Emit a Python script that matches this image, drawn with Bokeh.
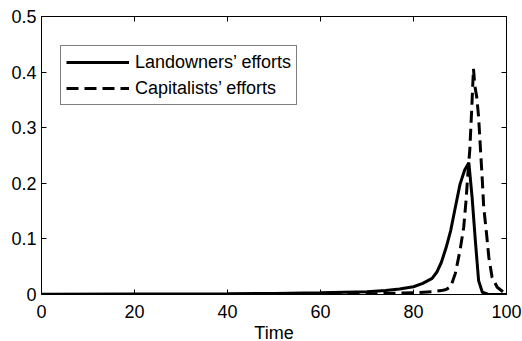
from bokeh.plotting import figure
from bokeh.models import Range1d, LinearAxis, FixedTicker, Legend, LegendItem
from bokeh.embed import file_html
from bokeh.resources import INLINE

# ---- data ----
t_land = [0, 20, 40, 50, 60, 65, 70, 74, 77, 80, 82, 84, 85, 86, 87, 88, 89, 90, 91, 91.9, 92.6, 93.3, 94, 94.8, 96, 100]
land = [0.0005, 0.001, 0.0015, 0.002, 0.003, 0.004, 0.005, 0.007, 0.010, 0.014, 0.020, 0.029, 0.040,
        0.058, 0.084, 0.115, 0.157, 0.198, 0.224, 0.237, 0.175, 0.097, 0.025, 0.004, 0.0005, 0.0]

t_cap = [0, 40, 60, 70, 75, 80, 84, 86, 87, 88, 89, 90, 90.8, 91.3, 91.7, 92.1, 92.5, 92.9, 93.2, 93.6,
         94, 94.4, 94.8, 95.1, 95.7, 96.2, 96.9, 98, 99.4, 100]
cap = [0.0, 0.0, 0.0005, 0.001, 0.002, 0.003, 0.005, 0.007, 0.009, 0.014, 0.038, 0.079, 0.121, 0.169,
       0.218, 0.259, 0.330, 0.406, 0.375, 0.355, 0.319, 0.262, 0.205, 0.157, 0.110, 0.067, 0.031,
       0.013, 0.004, 0.0]

x_ticks = [0, 20, 40, 60, 80, 100]
y_ticks = [0, 0.1, 0.2, 0.3, 0.4, 0.5]
y_tick_labels = ["0", "0.1", "0.2", "0.3", "0.4", "0.5"]
series_names = ["Landowners\u2019 efforts", "Capitalists\u2019 efforts"]
x_title = "Time"

FONT = "Liberation Sans"
FS = "18px"

p = figure(frame_width=465, frame_height=278,
           min_border_left=41, min_border_right=16, min_border_top=16, min_border_bottom=47,
           x_range=Range1d(0, 100), y_range=Range1d(0, 0.5),
           output_backend="svg", toolbar_location=None, tools="",
           background_fill_color="white", border_fill_color="white")
p.xgrid.visible = False
p.ygrid.visible = False
p.outline_line_color = "black"
p.outline_line_width = 1
p.outline_line_alpha = 1

r1 = p.line(t_land, land, line_color="black", line_width=3)
r2 = p.line(t_cap, cap, line_color="black", line_width=3, line_dash="12 6")

xa = p.xaxis[0]
xa.ticker = FixedTicker(ticks=x_ticks)
ya = p.yaxis[0]
ya.ticker = FixedTicker(ticks=y_ticks)
ya.major_label_overrides = {v: s for v, s in zip(y_ticks, y_tick_labels)}

top = LinearAxis(ticker=FixedTicker(ticks=x_ticks),
                 major_label_overrides={v: "" for v in x_ticks})
right = LinearAxis(ticker=FixedTicker(ticks=y_ticks),
                   major_label_overrides={v: "" for v in y_ticks})
p.add_layout(top, "above")
p.add_layout(right, "right")

for ax in (xa, ya, top, right):
    ax.axis_line_color = "black"
    ax.major_tick_line_color = "black"
    ax.major_tick_in = 5
    ax.major_tick_out = 0
    ax.minor_tick_line_color = None
    ax.major_label_text_font = FONT
    ax.major_label_text_font_size = FS
    ax.major_label_text_color = "black"
top.major_label_standoff = 0
right.major_label_standoff = 0

xa.major_label_standoff = 10
ya.major_label_standoff = 5
xa.axis_label = x_title
xa.axis_label_text_font = FONT
xa.axis_label_text_font_size = FS
xa.axis_label_text_font_style = "normal"
xa.axis_label_text_color = "black"
xa.axis_label_standoff = 2

legend = Legend(items=[LegendItem(label=series_names[0], renderers=[r1]),
                       LegendItem(label=series_names[1], renderers=[r2])],
                location=(19, 189))
legend.label_text_font = FONT
legend.label_text_font_size = FS
legend.label_text_color = "black"
legend.glyph_width = 63
legend.glyph_height = 22
legend.label_height = 22
legend.label_standoff = 6
legend.spacing = 4
legend.padding = 5
legend.margin = 0
legend.border_line_color = "black"
legend.border_line_width = 1
legend.background_fill_color = "white"
legend.background_fill_alpha = 1
p.add_layout(legend, "center")

open("out.html", "w").write(file_html(p, INLINE))
